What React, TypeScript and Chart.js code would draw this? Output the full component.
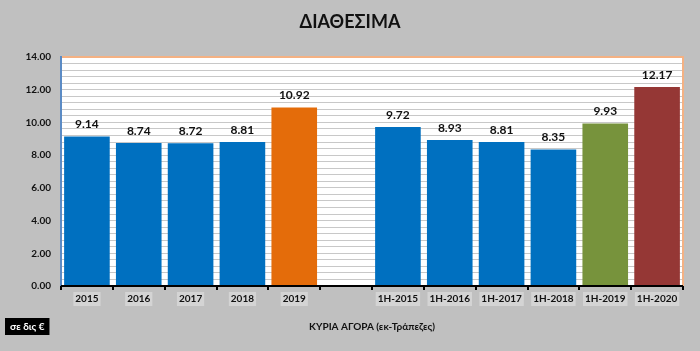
import React, { useEffect, useRef } from "react";
import { Chart, registerables } from "chart.js";

Chart.register(...registerables);

const categories = ["2015", "2016", "2017", "2018", "2019", "", "1H-2015", "1H-2016", "1H-2017", "1H-2018", "1H-2019", "1H-2020"];
const values: (number | null)[] = [9.14, 8.74, 8.72, 8.81, 10.92, null, 9.72, 8.93, 8.81, 8.35, 9.93, 12.17];
const barColors = ["#0070C0", "#0070C0", "#0070C0", "#0070C0", "#E46C0A", "#0070C0", "#0070C0", "#0070C0", "#0070C0", "#0070C0", "#77933C", "#953735"];
const titleText = "ΔΙΑΘΕΣΙΜΑ";
const xTitleText = "ΚΥΡΙΑ ΑΓΟΡΑ (εκ-Τράπεζες)";
const unitText = "σε δις €";
const yMax = 14;
const gridStep = 0.4;
const labelStep = 2;

const FONT = "Lato, 'Open Sans', 'DejaVu Sans', sans-serif";

const decorPlugin = {
  id: "decor",
  beforeDraw(chart: any) {
    const { ctx, chartArea: a, width, height } = chart;
    ctx.save();
    ctx.fillStyle = "#c0c0c0";
    ctx.fillRect(0, 0, width, height);
    ctx.fillStyle = "#ffffff";
    ctx.fillRect(a.left, a.top, a.right - a.left, a.bottom - a.top);
    ctx.restore();
  },
  afterDatasetsDraw(chart: any) {
    const { ctx, chartArea: a } = chart;
    ctx.save();
    ctx.strokeStyle = "#F4B183";
    ctx.lineWidth = 2;
    ctx.beginPath();
    ctx.moveTo(a.left, a.top);
    ctx.lineTo(a.right, a.top);
    ctx.lineTo(a.right, a.bottom);
    ctx.stroke();
    ctx.strokeStyle = "#5B8BC5";
    ctx.lineWidth = 2;
    ctx.beginPath();
    ctx.moveTo(a.left, a.top - 1);
    ctx.lineTo(a.left, a.bottom);
    ctx.stroke();
    ctx.strokeStyle = "#000000";
    ctx.lineWidth = 2;
    ctx.beginPath();
    ctx.moveTo(a.left, a.bottom);
    ctx.lineTo(a.right, a.bottom);
    ctx.stroke();

    const meta = chart.getDatasetMeta(0);
    ctx.fillStyle = "#111111";
    ctx.font = `bold 12px ${FONT}`;
    ctx.textAlign = "center";
    ctx.textBaseline = "bottom";
    meta.data.forEach((bar: any, i: number) => {
      const v = values[i];
      if (v == null) return;
      ctx.fillText(v.toFixed(2), bar.x, bar.y - 6);
    });

    ctx.font = `bold 18px ${FONT}`;
    ctx.textBaseline = "middle";
    ctx.fillText(titleText, chart.width / 2, 22);

    ctx.font = `bold 10px ${FONT}`;
    ctx.fillText(xTitleText, (a.left + a.right) / 2, 327);

    ctx.font = `bold 10px ${FONT}`;
    const w = ctx.measureText(unitText).width + 10;
    ctx.fillStyle = "#000000";
    ctx.fillRect(5, 318, w, 17);
    ctx.fillStyle = "#ffffff";
    ctx.textAlign = "left";
    ctx.fillText(unitText, 10, 327);
    ctx.restore();
  },
};

export default function App() {
  const ref = useRef<HTMLCanvasElement>(null);
  useEffect(() => {
    document.body.style.margin = "0";
    const chart = new Chart(ref.current!, {
      type: "bar",
      data: {
        labels: categories,
        datasets: [
          {
            data: values,
            backgroundColor: barColors,
            barPercentage: 0.88,
            categoryPercentage: 1,
          },
        ],
      },
      plugins: [decorPlugin],
      options: {
        animation: false,
        responsive: false,
        layout: { padding: { top: 57, right: 17, left: 0, bottom: 0 } },
        plugins: { legend: { display: false }, title: { display: false }, tooltip: { enabled: false } },
        scales: {
          x: {
            offset: true,
            grid: {
              offset: true,
              display: true,
              drawOnChartArea: false,
              drawTicks: true,
              tickLength: 4,
              color: "#000000",
              lineWidth: 2,
            },
            border: { display: false },
            ticks: {
              color: "#111111",
              font: { family: FONT, size: 10, weight: "bold" },
              padding: 3,
              maxRotation: 0,
              autoSkip: false,
              showLabelBackdrop: true,
              backdropColor: (c: any) => (categories[c.index] ? "#d4d4d4" : "rgba(0,0,0,0)"),
              backdropPadding: { top: 1, bottom: 1, left: 2, right: 2 },
            },
            afterFit(scale: any) {
              scale.height = 65;
            },
          },
          y: {
            min: 0,
            max: yMax,
            grid: {
              color: "#c8c8c8",
              lineWidth: 1,
              drawTicks: false,
            },
            border: { display: false },
            ticks: {
              stepSize: gridStep,
              autoSkip: false,
              color: "#111111",
              padding: 10,
              font: { family: FONT, size: 10, weight: "bold" },
              callback: (v: any) => {
                const n = Number(v);
                return Math.abs(n / labelStep - Math.round(n / labelStep)) < 1e-6 ? n.toFixed(2) : "";
              },
            },
            afterFit(scale: any) {
              scale.width = 61;
            },
          },
        },
      } as any,
    });
    return () => chart.destroy();
  }, []);
  return <canvas ref={ref} width={700} height={351} style={{ display: "block" }} />;
}
